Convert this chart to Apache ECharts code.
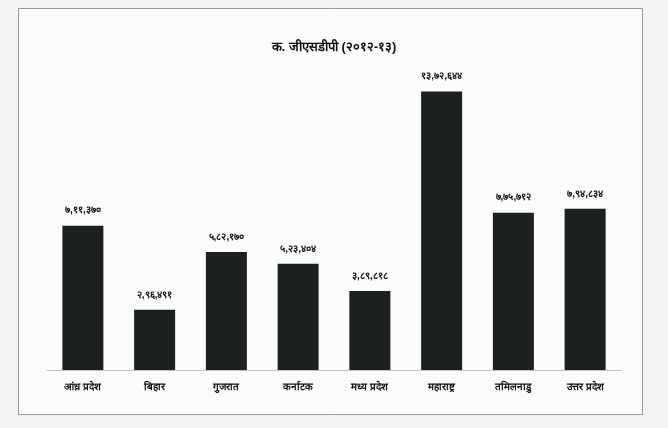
<!DOCTYPE html>
<html>
<head>
<meta charset="utf-8">
<script src="https://cdn.jsdelivr.net/npm/echarts@6/dist/echarts.min.js"></script>
<style>
html,body{margin:0;padding:0;background:#f3f3f1;}
#c{width:668px;height:428px;}
</style>
</head>
<body>
<div id="c"></div>
<script>
const titleText = "क. जीएसडीपी (२०१२-१३)";
const categories = ["आंध्र प्रदेश","बिहार","गुजरात","कर्नाटक","मध्य प्रदेश","महाराष्ट्र","तमिलनाडु","उत्तर प्रदेश"];
const gsdp = [711370, 296491, 582170, 523404, 389818, 1372644, 775712, 794834];

const devDigits = "०१२३४५६७८९";
function toIndian(n){
  const s = String(n);
  if (s.length <= 3) return s;
  const last3 = s.slice(-3);
  let rest = s.slice(0, -3);
  const parts = [];
  while (rest.length > 2){ parts.unshift(rest.slice(-2)); rest = rest.slice(0,-2); }
  if (rest) parts.unshift(rest);
  return parts.join(",") + "," + last3;
}
function toDev(str){ return str.replace(/[0-9]/g, d => devDigits[+d]); }

const chart = echarts.init(document.getElementById('c'));
chart.setOption({
  backgroundColor: '#f3f3f1',
  graphic: [{
    type: 'rect', left: 18, top: 8, shape: {width: 624, height: 406},
    style: {fill: '#fbfbfa', stroke: '#9a9a98', lineWidth: 1}, z: -1
  }],
  title: {
    text: titleText, left: 'center', top: 36,
    textStyle: {fontSize: 13, fontWeight: 'bold', color: '#111'}
  },
  grid: {left: 47, right: 47, top: 86, bottom: 58},
  xAxis: {
    type: 'category', data: categories,
    axisLine: {show: true, lineStyle: {color: '#c4c4c2', width: 1}},
    axisTick: {show: false},
    axisLabel: {fontSize: 10, fontWeight: 'bold', color: '#111', margin: 12, interval: 0}
  },
  yAxis: {type: 'value', min: 0, max: 1400000, show: false, splitLine: {show: false}},
  series: [{
    type: 'bar', data: gsdp, barWidth: 41,
    itemStyle: {color: '#1c211e'},
    label: {
      show: true, position: 'top', distance: 10,
      fontSize: 10, fontWeight: 'bold', color: '#111',
      formatter: p => toDev(toIndian(p.value))
    }
  }]
});
</script>
</body>
</html>
